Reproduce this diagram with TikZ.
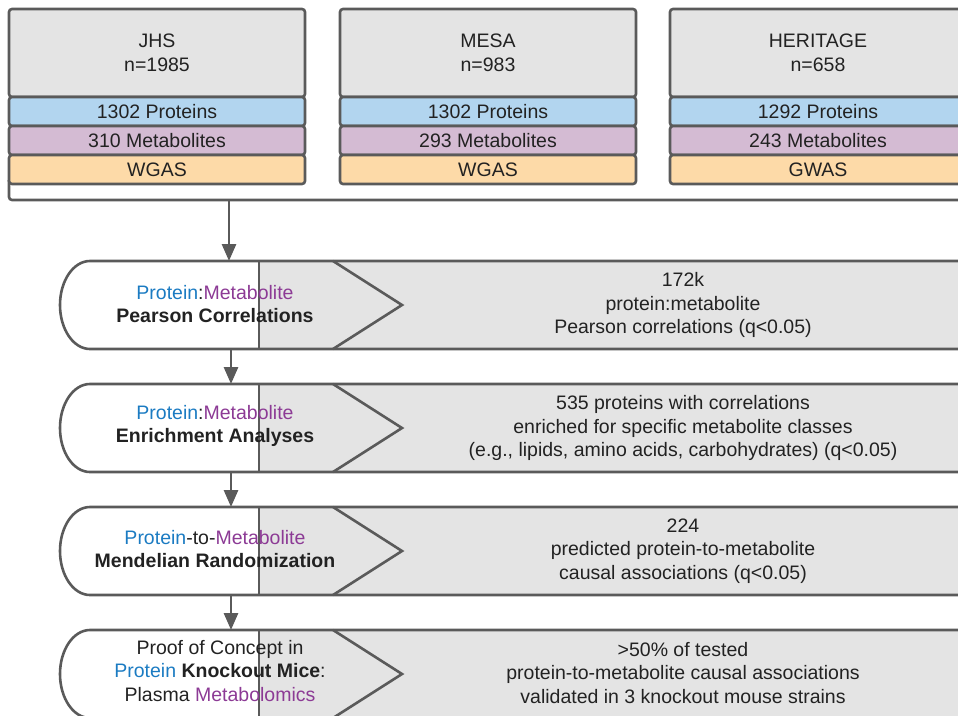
\documentclass[tikz,border=0pt]{standalone}
\usepackage{fontspec}
\setmainfont{Liberation Sans}
\usepackage{xcolor}
\usetikzlibrary{arrows.meta}
\definecolor{linegray}{HTML}{5A5A5A}
\definecolor{boxgray}{HTML}{E4E4E4}
\definecolor{protfill}{HTML}{B2D5EF}
\definecolor{metafill}{HTML}{D4BBD3}
\definecolor{gwasfill}{HTML}{FDDAA8}
\definecolor{protblue}{HTML}{1B7BC2}
\definecolor{metapurple}{HTML}{8C3A95}
\definecolor{textdark}{HTML}{222222}

\begin{document}
\begin{tikzpicture}[x=1pt,y=-1pt,
  every node/.style={font=\fontsize{19.5}{23.5}\selectfont,text=textdark,align=center},
  box/.style={draw=linegray,line width=2.6pt,rounded corners=3pt,minimum width=296pt,inner sep=0pt},
  outline/.style={draw=linegray,line width=2.6pt},
  flow/.style={draw=linegray,line width=2.8pt,-{Triangle[length=17pt,width=14pt]}}]

\useasboundingbox (0,0) rectangle (958,715);
\clip (0,0) rectangle (958,715);

% Cohort frame
\draw[outline,rounded corners=3pt] (9,180) -- (9,200) -- (990,200);
\coordinate (frame) at (229,200);

% JHS
\node[box,fill=boxgray,minimum height=88pt] (jhs) at (157,53) {JHS\\n=1985};
\node[box,fill=protfill,minimum height=29pt] (jhsprot) at (157,111.5) {1302 Proteins};
\node[box,fill=metafill,minimum height=29pt] (jhsmeta) at (157,140.5) {310 Metabolites};
\node[box,fill=gwasfill,minimum height=29pt] (jhsgwas) at (157,169.5) {WGAS};

% MESA
\node[box,fill=boxgray,minimum height=88pt] (mesa) at (488,53) {MESA\\n=983};
\node[box,fill=protfill,minimum height=29pt] (mesaprot) at (488,111.5) {1302 Proteins};
\node[box,fill=metafill,minimum height=29pt] (mesameta) at (488,140.5) {293 Metabolites};
\node[box,fill=gwasfill,minimum height=29pt] (mesagwas) at (488,169.5) {WGAS};

% HERITAGE
\node[box,fill=boxgray,minimum height=88pt] (heritage) at (818,53) {HERITAGE\\n=658};
\node[box,fill=protfill,minimum height=29pt] (heritageprot) at (818,111.5) {1292 Proteins};
\node[box,fill=metafill,minimum height=29pt] (heritagemeta) at (818,140.5) {243 Metabolites};
\node[box,fill=gwasfill,minimum height=29pt] (heritagegwas) at (818,169.5) {GWAS};

% Pearson correlations
\fill[boxgray] (259,261) rectangle (990,349);
\draw[outline] (990,261) -- (90,261) arc[start angle=-90,end angle=-270,x radius=30,y radius=44] -- (990,349);
\draw[outline] (259,261) -- (259,349);
\draw[outline] (333,261) -- (402,305) -- (333,349);
\coordinate (pearsontop) at (229,261);
\coordinate (pearsonbot) at (231,349);
\node (pearson) at (215,304) {\textcolor{protblue}{Protein}:\textcolor{metapurple}{Metabolite}\\\textbf{Pearson Correlations}};
\node (pearsonres) at (683,305) {172k\\protein:metabolite\\Pearson correlations (q<0.05)};

% Enrichment analyses
\fill[boxgray] (259,384) rectangle (990,472);
\draw[outline] (990,384) -- (90,384) arc[start angle=-90,end angle=-270,x radius=30,y radius=44] -- (990,472);
\draw[outline] (259,384) -- (259,472);
\draw[outline] (333,384) -- (402,428) -- (333,472);
\coordinate (enrichtop) at (231,384);
\coordinate (enrichbot) at (231,472);
\node (enrich) at (215,426) {\textcolor{protblue}{Protein}:\textcolor{metapurple}{Metabolite}\\\textbf{Enrichment Analyses}};
\node (enrichres) at (683,428) {535 proteins with correlations\\enriched for specific metabolite classes\\(e.g., lipids, amino acids, carbohydrates) (q<0.05)};

% Mendelian randomization
\fill[boxgray] (259,507) rectangle (990,595);
\draw[outline] (990,507) -- (90,507) arc[start angle=-90,end angle=-270,x radius=30,y radius=44] -- (990,595);
\draw[outline] (259,507) -- (259,595);
\draw[outline] (333,507) -- (402,551) -- (333,595);
\coordinate (mrtop) at (231,507);
\coordinate (mrbot) at (231,595);
\node (mr) at (215,549) {\textcolor{protblue}{Protein}-to-\textcolor{metapurple}{Metabolite}\\\textbf{Mendelian Randomization}};
\node (mrres) at (683,551) {224\\predicted protein-to-metabolite\\causal associations (q<0.05)};

% Knockout mice
\fill[boxgray] (259,630) rectangle (990,718);
\draw[outline] (990,630) -- (90,630) arc[start angle=-90,end angle=-270,x radius=30,y radius=44] -- (990,718);
\draw[outline] (259,630) -- (259,718);
\draw[outline] (333,630) -- (402,674) -- (333,718);
\coordinate (kotop) at (231,630);
\node (ko) at (220,671) {Proof of Concept in\\\textcolor{protblue}{Protein} \textbf{Knockout Mice}:\\Plasma \textcolor{metapurple}{Metabolomics}};
\node (kores) at (683,673) {>50\% of tested\\protein-to-metabolite causal associations\\validated in 3 knockout mouse strains};

% Arrows
\draw[flow] (frame) -- (pearsontop);
\draw[flow] (pearsonbot) -- (enrichtop);
\draw[flow] (enrichbot) -- (mrtop);
\draw[flow] (mrbot) -- (kotop);

\end{tikzpicture}
\end{document}
